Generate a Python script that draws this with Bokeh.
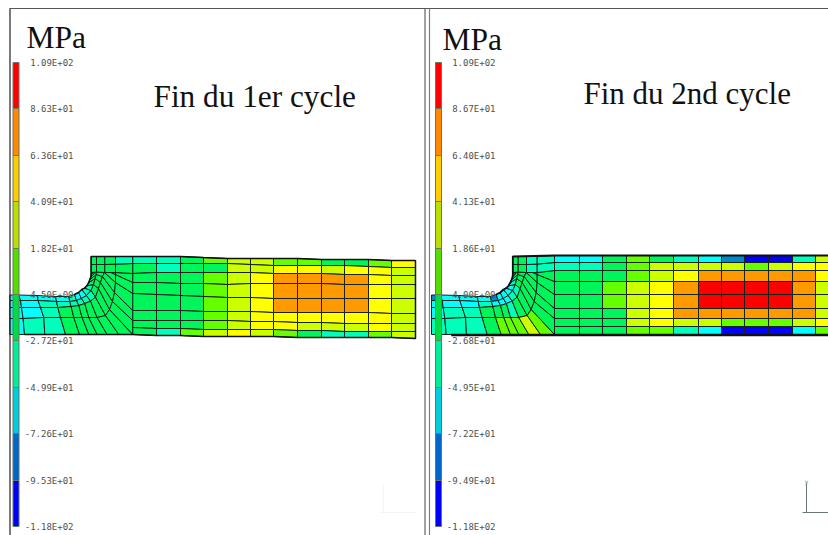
from bokeh.plotting import figure
from bokeh.embed import file_html
from bokeh.resources import INLINE
from bokeh.models import Range1d, ColumnDataSource
from bokeh.core.properties import value

# ---- colour levels (index 0 = lowest stress) ----
bar_colors = ["#0000ff", "#0066cc", "#00ccdd", "#00ee99", "#00dd44",
              "#55dd00", "#bbdd00", "#ffcc00", "#ff8800", "#ff0000"]
mesh_colors = ["#0000ff", "#0088cc", "#00ffff", "#00ffbb", "#00f55a",
               "#66ff00", "#ccff00", "#ffff00", "#ff9900", "#ff0000"]
bar_levels = [526, 480, 433, 387, 340, 294, 248, 201, 155, 108, 62]

labels_1 = ["-1.18E+02", "-9.53E+01", "-7.26E+01", "-4.99E+01", "-2.72E+01", "4.50E+00",
            "1.82E+01", "4.09E+01", "6.36E+01", "8.63E+01", "1.09E+02"]
labels_2 = ["-1.18E+02", "-9.49E+01", "-7.22E+01", "-4.95E+01", "-2.68E+01", "4.00E+00",
            "1.86E+01", "4.13E+01", "6.40E+01", "8.67E+01", "1.09E+02"]

# ---- fillet zone: 17 spokes, 5 nodes each (free edge -> inner edge) ----
fan_nodes = [
    [(9.3, 294.5), (9.3, 300), (9.3, 307), (9.3, 318), (9.3, 334)],
    [(18.3, 294.5), (20, 300), (21, 307), (22.6, 318), (24, 334)],
    [(36.6, 295), (37.6, 300), (40, 307), (43.3, 317), (44.3, 334)],
    [(55, 296), (56, 301), (57.3, 307), (60, 317), (65, 334)],
    [(68.3, 296), (69.3, 301), (70.6, 306), (73.3, 317), (79, 334)],
    [(74, 294), (76, 300), (78.3, 305), (81.6, 317), (88.3, 334)],
    [(78, 292), (81, 298), (84.3, 303), (88.3, 317), (96.6, 334)],
    [(81.3, 289), (86, 295), (90, 300.6), (96.6, 317), (106.6, 334)],
    [(84, 287.6), (90.6, 290), (95, 296.6), (105, 315), (118.3, 334)],
    [(86.3, 285.3), (93, 284), (98, 288), (109, 309), (132.3, 334)],
    [(88, 282.3), (94.6, 278), (100, 282), (112, 301), (132.3, 320)],
    [(89.3, 279.3), (95.6, 274), (102, 276), (114, 292), (132.3, 310)],
    [(90.3, 276.6), (96, 270), (104, 272), (115, 282), (132.3, 293)],
    [(90.6, 274.3), (96, 268.6), (104, 269), (115, 274), (132.3, 282)],
    [(90.6, 272), (96, 271.6), (104.3, 272), (115, 272), (132.3, 273)],
    [(90.6, 264), (96, 264), (104.3, 264), (115, 263.6), (132.3, 263)],
    [(90.6, 256), (96, 256), (104.3, 256), (115, 256), (132.3, 256)],
]

# fillet colours: one row per spoke gap, four cells free edge -> inner edge
fan_1 = [
    [2, 2, 2, 2], [2, 2, 2, 3], [2, 3, 3, 3], [2, 3, 4, 4], [3, 3, 4, 4],
    [2, 3, 4, 4], [2, 3, 4, 4], [3, 3, 4, 4], [3, 4, 4, 4], [4, 4, 4, 4],
    [4, 4, 4, 4], [4, 4, 4, 4], [4, 4, 4, 4], [4, 4, 4, 4], [4, 4, 4, 4],
    [4, 4, 4, 3],
]
fan_2 = [
    [1, 2, 2, 3], [2, 2, 3, 3], [2, 2, 3, 3], [2, 3, 4, 4], [1, 2, 4, 5],
    [2, 2, 4, 5], [2, 2, 3, 5], [2, 3, 4, 6], [2, 3, 4, 5], [3, 4, 4, 4],
    [3, 4, 4, 4], [4, 4, 4, 4], [4, 4, 4, 4], [4, 4, 4, 4], [4, 4, 3, 3],
    [4, 4, 3, 3],
]
fan_shift_2 = 421.7
# height of the inner edge nodes of spokes 9..16 in the second panel
fan_inner_2 = [334, 318, 308, 294, 281, 270, 262, 255]

# ---- rectangular block: column positions, row positions at each column ----
block_x_1 = [132.3, 156, 180, 203, 227, 250, 273, 297, 321, 344, 368, 391, 415]
block_y_1 = [
    [256, 263, 273, 282, 293, 310, 320, 327, 334],
    [256, 263, 272, 282, 294, 310, 320, 328, 335],
    [256, 263, 272, 283, 295, 310, 320, 328, 335],
    [257, 263, 272, 283, 296, 311, 320, 329, 336],
    [258, 263, 272, 284, 297, 311, 320, 329, 336],
    [258, 264, 272, 283, 297, 311, 321, 329, 336],
    [258, 265, 273, 283, 298, 312, 321, 329, 336],
    [258, 265, 273, 283, 298, 312, 322, 330, 337],
    [259, 265, 273, 283, 298, 312, 322, 330, 337],
    [259, 265, 274, 284, 298, 312, 323, 331, 337],
    [259, 266, 274, 284, 298, 312, 323, 331, 337],
    [260, 267, 275, 284, 298, 313, 323, 331, 337],
    [260, 267, 275, 284, 298, 313, 323, 331, 338],
]
block_x_2 = [554, 579, 602, 626, 649, 673, 698, 721, 744, 768, 792, 815, 829]
block_y_2 = [255, 262, 270, 281, 294, 308, 318, 326, 334]

# block colours: one row per column, eight cells top -> bottom
block_1 = [
    [3, 4, 4, 4, 4, 4, 4, 4],
    [3, 3, 4, 4, 4, 4, 4, 3],
    [4, 4, 4, 4, 4, 4, 4, 5],
    [5, 4, 5, 5, 5, 5, 5, 6],
    [6, 6, 6, 6, 6, 6, 6, 7],
    [6, 6, 7, 7, 7, 7, 7, 6],
    [5, 7, 8, 8, 8, 7, 7, 5],
    [5, 7, 8, 8, 8, 7, 6, 4],
    [4, 6, 8, 8, 8, 7, 6, 3],
    [4, 7, 8, 8, 8, 7, 6, 3],
    [5, 7, 7, 7, 7, 7, 7, 5],
    [7, 6, 6, 6, 6, 6, 6, 6],
]
block_2 = [
    [2, 3, 4, 4, 4, 4, 4, 4],
    [2, 3, 4, 4, 4, 4, 4, 4],
    [4, 4, 4, 5, 5, 4, 4, 4],
    [5, 5, 5, 6, 6, 6, 6, 5],
    [4, 6, 6, 7, 7, 7, 7, 5],
    [3, 6, 7, 8, 8, 8, 6, 3],
    [2, 6, 8, 9, 9, 8, 6, 2],
    [1, 6, 8, 9, 9, 8, 5, 0],
    [0, 5, 8, 9, 9, 8, 5, 0],
    [0, 6, 8, 9, 9, 8, 5, 0],
    [3, 7, 8, 8, 8, 8, 6, 2],
    [6, 7, 7, 6, 6, 6, 7, 5],
]

titles = ["Fin du 1er cycle", "Fin du 2nd cycle"]
unit = "MPa"

p = figure(width=828, height=535, output_backend="svg", toolbar_location=None,
           x_range=Range1d(0, 828), y_range=Range1d(535, 0),
           min_border=0, outline_line_color=None, background_fill_color="white",
           border_fill_color="white")
p.axis.visible = False
p.grid.visible = False
p.xaxis.visible = False
p.yaxis.visible = False


def add_mesh(fan, shift, blk_x, blk_y, blk, inner=None):
    nodes = [list(s) for s in fan_nodes]
    if inner:
        for k, y in enumerate(inner):
            nodes[9 + k][4] = (nodes[9 + k][4][0], y)
    xs, ys, cs = [], [], []
    for i, col in enumerate(fan):
        for j, lev in enumerate(col):
            quad = [nodes[i][j], nodes[i + 1][j], nodes[i + 1][j + 1], nodes[i][j + 1]]
            xs.append([q[0] + shift for q in quad])
            ys.append([q[1] for q in quad])
            cs.append(mesh_colors[lev])
    for i, col in enumerate(blk):
        yl = blk_y[i] if isinstance(blk_y[0], list) else blk_y
        yr = blk_y[i + 1] if isinstance(blk_y[0], list) else blk_y
        for j, lev in enumerate(col):
            xs.append([blk_x[i], blk_x[i + 1], blk_x[i + 1], blk_x[i]])
            ys.append([yl[j], yr[j], yr[j + 1], yl[j + 1]])
            cs.append(mesh_colors[lev])
    p.patches("x", "y", fill_color="c", line_color="#16221a", line_width=1,
              source=ColumnDataSource(dict(x=xs, y=ys, c=cs)))


add_mesh(fan_1, 0, block_x_1, block_y_1, block_1)
add_mesh(fan_2, fan_shift_2, block_x_2, block_y_2, block_2, fan_inner_2)

# part outlines
top1 = [fan_nodes[i][0] for i in range(5, 17)]
p.line([q[0] for q in top1] + block_x_1[1:], [q[1] for q in top1] + [r[0] for r in block_y_1[1:]],
       line_color="#111111", line_width=1.5)
p.line(block_x_1[:1] + block_x_1[1:] + [block_x_1[-1]],
       [block_y_1[0][-1]] + [r[-1] for r in block_y_1[1:]] + [block_y_1[-1][0]],
       line_color="#111111", line_width=1.5)
p.line([fan_nodes[1][4][0], fan_nodes[9][4][0]], [fan_nodes[1][4][1], fan_nodes[9][4][1]],
       line_color="#111111", line_width=1.5)
p.line([q[0] + fan_shift_2 for q in top1] + block_x_2, [q[1] for q in top1] + [block_y_2[0]] * len(block_x_2),
       line_color="#111111", line_width=1.8)
p.line([fan_nodes[1][4][0] + fan_shift_2 + 5, block_x_2[-1]], [block_y_2[-1] + 0.5, block_y_2[-1] + 0.5],
       line_color="#111111", line_width=2.4)


def add_bar(x0, x1, text_right, labels):
    p.quad(left=x0, right=x1, bottom=bar_levels[:-1], top=bar_levels[1:], fill_color=bar_colors,
           line_color="#667766", line_width=1)
    p.text(x=[text_right] * len(labels), y=bar_levels, text=labels, text_font=value("DejaVu Sans Mono"),
           text_font_size="9px", text_color="#505050", text_align="right", text_baseline="middle")


add_bar(12.5, 18.5, 73, labels_1)
add_bar(435, 441, 495, labels_2)

# frames
p.segment(x0=[9.5, 9, 424.5, 429], y0=[8, 8, 8, 8], x1=[9.5, 828, 424.5, 429], y1=[535, 8, 535, 535],
          line_color=["#222222", "#555555", "#5f6660", "#7a827c"], line_width=1.2)

# triads
p.segment(x0=[806, 802], y0=[483, 512], x1=[806, 828], y1=[512, 512], line_color="#667a70", line_width=1)
p.text(x=[806], y=[481], text=["y"], text_font=value("DejaVu Sans"), text_font_size="6px",
       text_color="#667a70", text_align="center", text_baseline="middle")
p.segment(x0=[383, 380], y0=[485, 512], x1=[383, 416], y1=[512, 512], line_color="#f3f3f3", line_width=1)

# titles
p.text(x=[153], y=[95.5], text=titles[:1], text_font=value("Liberation Serif"), text_font_size="31.3px",
       text_color="#111111", text_align="left", text_baseline="alphabetic")
p.text(x=[583], y=[93], text=titles[1:], text_font=value("Liberation Serif"), text_font_size="31px",
       text_color="#111111", text_align="left", text_baseline="alphabetic")
p.text(x=[26, 442], y=[37, 39], text=[unit, unit], text_font=value("Liberation Serif"), text_font_size="31.5px",
       text_color="#111111", text_align="left", text_baseline="alphabetic")

open("out.html", "w").write(file_html(p, INLINE))
